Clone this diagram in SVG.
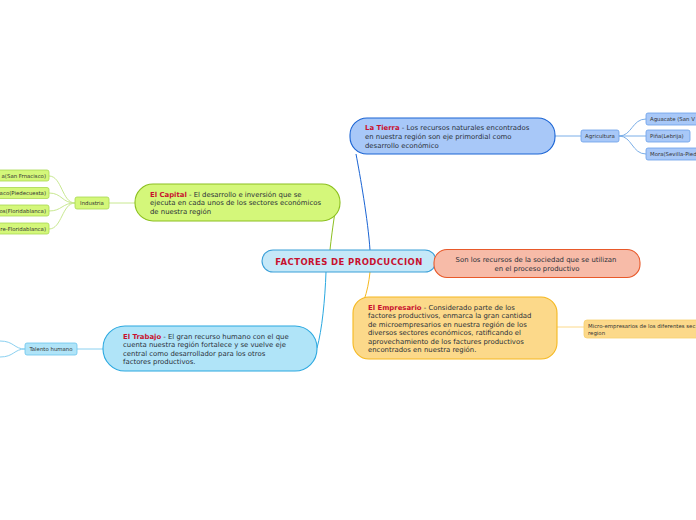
<svg xmlns="http://www.w3.org/2000/svg" width="696" height="520" viewBox="0 0 696 520">
<style>
text{font-family:"DejaVu Sans","Verdana",sans-serif;}
.body{font-size:6.9px;fill:#2a3038;}
.lbl{font-weight:bold;fill:#c8102e;}
.sm{font-size:5.4px;fill:#333;}
.c{fill:none;stroke-width:1;}
</style>
<rect width="696" height="520" fill="#ffffff"/>
<g id="connectors">
<path class="c" d="M370,250 C368,220 360,175 356,154" stroke="#1a64d4" stroke-width="1.3"/>
<path class="c" d="M330,250 C331,240 333,225 335,212" stroke="#8cc020" stroke-width="1.3"/>
<path class="c" d="M326,272 C325,300 322,330 317,348" stroke="#2aa8e0" stroke-width="1.3"/>
<path class="c" d="M370,272 C369,282 367,292 364,300" stroke="#f5b820" stroke-width="1.3"/>
<path class="c" d="M555,136 L581,136" stroke="#7aaee8"/>
<path class="c" d="M619,136 C632,136 632,119 646,119" stroke="#7aaee8"/>
<path class="c" d="M619,136 L646,136" stroke="#7aaee8"/>
<path class="c" d="M619,136 C632,136 632,154 646,154" stroke="#7aaee8"/>
<path class="c" d="M109,203 L135,203" stroke="#c8e890"/>
<path class="c" d="M75,203 C62,203 62,176 49,176" stroke="#c8e890"/>
<path class="c" d="M75,203 C62,203 62,193 49,193" stroke="#c8e890"/>
<path class="c" d="M75,203 C62,203 62,211 49,211" stroke="#c8e890"/>
<path class="c" d="M75,203 C62,203 62,229 49,229" stroke="#c8e890"/>
<path class="c" d="M77,349 L103,349" stroke="#8ad0f0"/>
<path class="c" d="M25,349 C14,349 14,341 0,341" stroke="#8ad0f0"/>
<path class="c" d="M25,349 C14,349 14,357 0,357" stroke="#8ad0f0"/>
<path class="c" d="M557,327 L584,327" stroke="#fcd98a"/>
</g>
<g id="central">
<rect x="262" y="250" width="174" height="22" rx="11" fill="#c5e8f8" stroke="#3a9fd8" stroke-width="1.1"/>
<text x="349" y="264.5" text-anchor="middle" font-size="8.5" font-weight="bold" fill="#c8102e" letter-spacing="0.4">FACTORES DE PRODCUCCION</text>
</g>
<g id="definicion">
<rect x="434" y="249.5" width="206" height="28" rx="13" fill="#f7bba8" stroke="#e8592a" stroke-width="1.1"/>
<text class="body" x="536" y="262" text-anchor="middle">Son los recursos de la sociedad que se utilizan</text>
<text class="body" x="537" y="271" text-anchor="middle">en el proceso productivo</text>
</g>
<g id="tierra">
<rect x="350" y="118" width="205" height="36" rx="17" fill="#a8c8f8" stroke="#1a64d4" stroke-width="1.1"/>
<text class="body" x="365" y="130"><tspan class="lbl">La Tierra</tspan> - Los recursos naturales encontrados</text>
<text class="body" x="365" y="139">en nuestra región son eje primordial como</text>
<text class="body" x="365" y="148">desarrollo económico</text>
</g>
<g id="agricultura">
<rect x="581" y="130" width="38" height="12" rx="2" fill="#a8c8f8" stroke="#6aa0e8" stroke-width="0.8"/>
<text class="sm" x="600" y="138" text-anchor="middle">Agricultura</text>
</g>
<g id="aguacate">
<rect x="646" y="113" width="60" height="12" rx="2" fill="#a8c8f8" stroke="#6aa0e8" stroke-width="0.8"/>
<text class="sm" x="650" y="121">Aguacate (San V</text>
</g>
<g id="pina">
<rect x="646" y="130" width="44" height="12" rx="2" fill="#a8c8f8" stroke="#6aa0e8" stroke-width="0.8"/>
<text class="sm" x="650" y="138">Piña(Lebrija)</text>
</g>
<g id="mora">
<rect x="646" y="148" width="60" height="12" rx="2" fill="#a8c8f8" stroke="#6aa0e8" stroke-width="0.8"/>
<text class="sm" x="650" y="156">Mora(Sevilla-Pied</text>
</g>
<g id="capital">
<rect x="135" y="184" width="205" height="37" rx="18" fill="#d4f77a" stroke="#8cc020" stroke-width="1.1"/>
<text class="body" x="150" y="197"><tspan class="lbl">El Capital</tspan> - El desarrollo e inversión que se</text>
<text class="body" x="150" y="205">ejecuta en cada unos de los sectores económicos</text>
<text class="body" x="150" y="214">de nuestra región</text>
</g>
<g id="industria">
<rect x="75" y="197" width="34" height="12" rx="2" fill="#d4f77a" stroke="#a8d850" stroke-width="0.8"/>
<text class="sm" x="92" y="205" text-anchor="middle">Industria</text>
</g>
<g id="ind1">
<rect x="-20" y="170" width="69" height="11" rx="2" fill="#d4f77a" stroke="#a8d850" stroke-width="0.8"/>
<text class="sm" x="46" y="177.5" text-anchor="end">a(San Frnacisco)</text>
</g>
<g id="ind2">
<rect x="-20" y="187.5" width="69" height="11" rx="2" fill="#d4f77a" stroke="#a8d850" stroke-width="0.8"/>
<text class="sm" x="46" y="195" text-anchor="end">aco(Piedecuesta)</text>
</g>
<g id="ind3">
<rect x="-20" y="205" width="69" height="11" rx="2" fill="#d4f77a" stroke="#a8d850" stroke-width="0.8"/>
<text class="sm" x="46" y="212.5" text-anchor="end">os(Floridablanca)</text>
</g>
<g id="ind4">
<rect x="-20" y="223" width="69" height="11" rx="2" fill="#d4f77a" stroke="#a8d850" stroke-width="0.8"/>
<text class="sm" x="46" y="230.5" text-anchor="end">re-Floridablanca)</text>
</g>
<g id="trabajo">
<rect x="103" y="326" width="214" height="45" rx="22" fill="#b0e4f8" stroke="#2aa8e0" stroke-width="1.1"/>
<text class="body" x="123" y="339"><tspan class="lbl">El Trabajo</tspan> - El gran recurso humano con el que</text>
<text class="body" x="123" y="347">cuenta nuestra región fortalece y se vuelve eje</text>
<text class="body" x="123" y="356">central como desarrollador para los otros</text>
<text class="body" x="123" y="364">factores productivos.</text>
</g>
<g id="talento">
<rect x="25" y="343" width="52" height="12" rx="2" fill="#b0e4f8" stroke="#6ac4ec" stroke-width="0.8"/>
<text class="sm" x="51" y="351" text-anchor="middle">Talento humano</text>
</g>
<g id="empresario">
<rect x="353" y="297" width="204" height="62" rx="16" fill="#fcd98a" stroke="#f5b820" stroke-width="1.1"/>
<text class="body" x="368" y="310"><tspan class="lbl">El Empresario</tspan> - Considerado parte de los</text>
<text class="body" x="368" y="318">factores productivos, enmarca la gran cantidad</text>
<text class="body" x="368" y="327">de microempresarios en nuestra región de los</text>
<text class="body" x="368" y="335">diversos  sectores económicos, ratificando el</text>
<text class="body" x="368" y="344">aprovechamiento de los factures productivos</text>
<text class="body" x="368" y="352">encontrados en nuestra región.</text>
</g>
<g id="micro">
<rect x="584" y="320" width="130" height="18" rx="3" fill="#fcd98a" stroke="#f8d070" stroke-width="0.8"/>
<text class="sm" x="588" y="328">Micro-empresarios de los diferentes sec</text>
<text class="sm" x="588" y="335">region</text>
</g>
</svg>
